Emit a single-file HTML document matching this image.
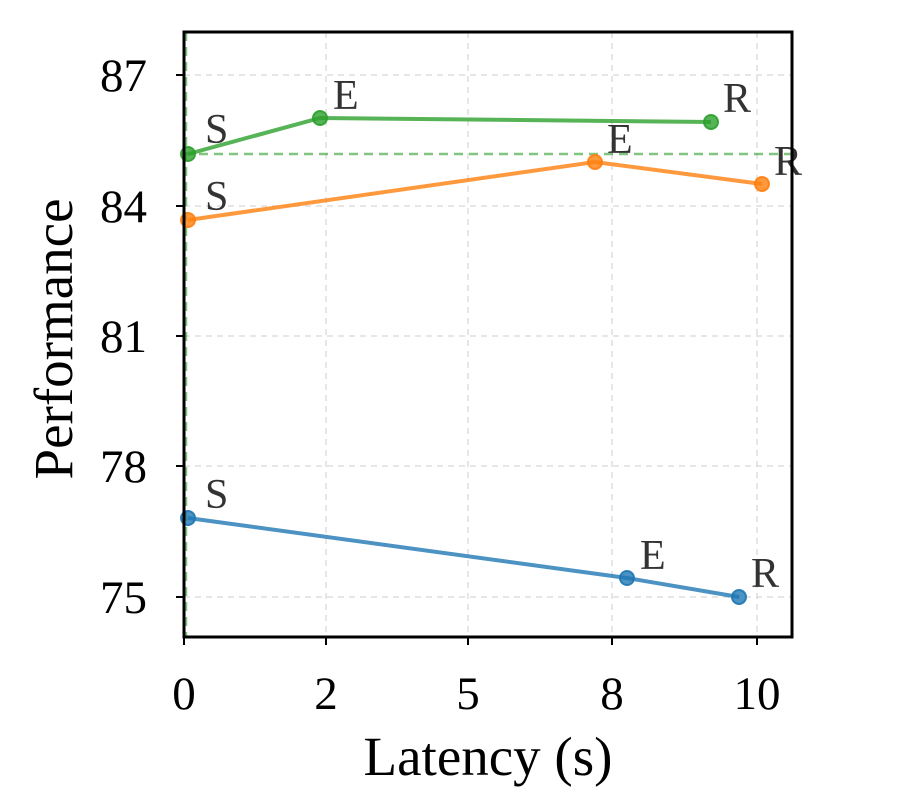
<!DOCTYPE html>
<html><head><meta charset="utf-8"><style>body{margin:0;background:#fff}</style></head><body>
<svg width="919" height="800" xmlns="http://www.w3.org/2000/svg" font-family="Liberation Serif, serif">
<rect width="919" height="800" fill="#fff"/>
<g stroke="#ddd" stroke-width="1.5" stroke-dasharray="6,5">
<line x1="184" y1="75" x2="792" y2="75"/><line x1="184" y1="206" x2="792" y2="206"/><line x1="184" y1="336" x2="792" y2="336"/><line x1="184" y1="466" x2="792" y2="466"/><line x1="184" y1="597" x2="792" y2="597"/>
<line x1="326" y1="32" x2="326" y2="637"/><line x1="468" y1="32" x2="468" y2="637"/><line x1="612" y1="32" x2="612" y2="637"/><line x1="757" y1="32" x2="757" y2="637"/>
</g>
<line x1="184" y1="154" x2="792" y2="154" stroke="#2ca02c" stroke-opacity="0.6" stroke-width="2.5" stroke-dasharray="9,6"/>
<line x1="186" y1="32" x2="186" y2="637" stroke="#2ca02c" stroke-opacity="0.6" stroke-width="2.5" stroke-dasharray="9,6"/>
<g stroke-width="4" fill="none" stroke-opacity="0.8">
<polyline points="188,154 320,118 711,122" stroke="#2ca02c"/>
<polyline points="188,220 595,162 762,184" stroke="#ff7f0e"/>
<polyline points="188,518 627,578 739,597" stroke="#1f77b4"/>
</g>
<g fill-opacity="0.8" stroke-width="2" stroke-opacity="0.9">
<g fill="#2ca02c" stroke="#2ca02c"><circle cx="188" cy="154" r="7"/><circle cx="320" cy="118" r="7"/><circle cx="711" cy="122" r="7"/></g>
<g fill="#ff7f0e" stroke="#ff7f0e"><circle cx="188" cy="220" r="7"/><circle cx="595" cy="162" r="7"/><circle cx="762" cy="184" r="7"/></g>
<g fill="#1f77b4" stroke="#1f77b4"><circle cx="188" cy="518" r="7"/><circle cx="627" cy="578" r="7"/><circle cx="739" cy="597" r="7"/></g>
</g>
<g font-size="42" fill="#333">
<text x="205" y="143">S</text><text x="333" y="109">E</text><text x="723" y="112">R</text>
<text x="205" y="210">S</text><text x="607" y="153">E</text><text x="774" y="175">R</text>
<text x="205" y="508">S</text><text x="640" y="569">E</text><text x="751" y="587">R</text>
</g>
<rect x="184" y="32" width="608" height="605" fill="none" stroke="#000" stroke-width="3"/>
<g stroke="#000" stroke-width="2">
<line x1="176" y1="75" x2="184" y2="75"/><line x1="176" y1="206" x2="184" y2="206"/><line x1="176" y1="336" x2="184" y2="336"/><line x1="176" y1="466" x2="184" y2="466"/><line x1="176" y1="597" x2="184" y2="597"/>
<line x1="184" y1="637" x2="184" y2="645"/><line x1="326" y1="637" x2="326" y2="645"/><line x1="468" y1="637" x2="468" y2="645"/><line x1="612" y1="637" x2="612" y2="645"/><line x1="757" y1="637" x2="757" y2="645"/>
</g>
<g font-size="47" fill="#000" text-anchor="end">
<text x="147" y="91">87</text><text x="147" y="222">84</text><text x="147" y="352">81</text><text x="147" y="482">78</text><text x="147" y="613">75</text>
</g>
<g font-size="47" fill="#000" text-anchor="middle">
<text x="184" y="709">0</text><text x="326" y="709">2</text><text x="468" y="709">5</text><text x="612" y="709">8</text><text x="757" y="709">10</text>
<text x="488" y="775" font-size="55">Latency (s)</text>
<text transform="translate(72,339) rotate(-90)" font-size="55">Performance</text>
</g>
</svg>
</body></html>
